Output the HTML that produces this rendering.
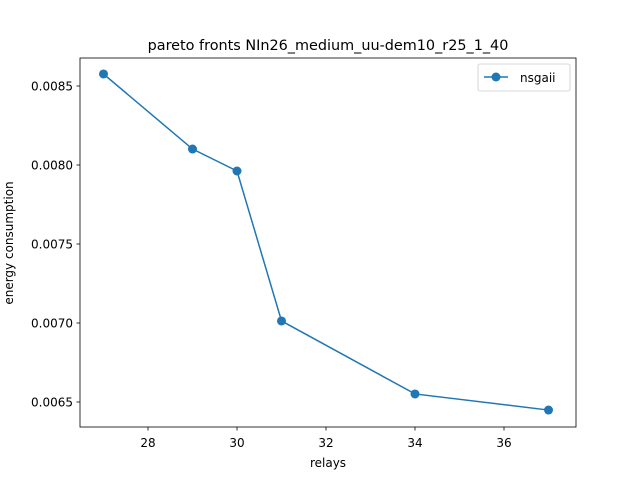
<!DOCTYPE html>
<html><head><meta charset="utf-8"><style>
body{margin:0;background:#fff}
svg text{font-family:"DejaVu Sans","Liberation Sans",sans-serif;fill:#000}
</style></head><body>
<svg id="chart" width="640" height="480" viewBox="0 0 640 480" xmlns="http://www.w3.org/2000/svg">
<rect width="640" height="480" fill="#fff"/>
<text x="328" y="50" font-size="14.4" text-anchor="middle">pareto fronts NIn26_medium_uu-dem10_r25_1_40</text>
<g id="xticks"></g>
<g id="yticks"></g>
<text x="328" y="467" font-size="12" text-anchor="middle">relays</text>
<text transform="translate(13,243) rotate(-90)" font-size="12" text-anchor="middle">energy consumption</text>
<g id="series"></g>
<rect x="80" y="58" width="496" height="369" fill="none" stroke="#000" stroke-width="0.8"/>
<g>
<rect x="478" y="64" width="92" height="27" rx="2" fill="#fff" stroke="#ccc" stroke-width="0.8"/>
<line x1="484" y1="77" x2="508" y2="77" stroke="#1f77b4" stroke-width="1.5"/>
<circle cx="496" cy="77" r="4.5" fill="#1f77b4"/>
<text x="520" y="82" font-size="12">nsgaii</text>
</g>
</svg>
<script>
const relays=[27,29,30,31,34,37];
const energy=[0.008576,0.008101,0.007962,0.007013,0.006551,0.006449];
const xTickVals=[28,30,32,34,36];
const xTickLabels=["28","30","32","34","36"];
const yTickVals=[0.0065,0.0070,0.0075,0.0080,0.0085];
const yTickLabels=["0.0065","0.0070","0.0075","0.0080","0.0085"];
const NS="http://www.w3.org/2000/svg";
function xs(v){return 148+(v-28)*44.5;}
function ys(v){return 86+(0.0085-v)/0.0005*79;}
function mk(t,a,p){const e=document.createElementNS(NS,t);for(const k in a)e.setAttribute(k,a[k]);p.appendChild(e);return e;}
const xg=document.getElementById('xticks'),yg=document.getElementById('yticks'),sg=document.getElementById('series');
xTickVals.forEach((v,i)=>{
 const l=mk('line',{x1:xs(v),x2:xs(v),y1:427,y2:430.5,stroke:'#000','stroke-width':0.8},xg);
 
 
 const t=mk('text',{x:xs(v),y:447,'font-size':12,'text-anchor':'middle'},xg);t.textContent=xTickLabels[i];
 
 
});
yTickVals.forEach((v,i)=>{
 const l=mk('line',{x1:76.5,x2:80,y1:ys(v),y2:ys(v),stroke:'#000','stroke-width':0.8},yg);
 
 
 const t=mk('text',{x:73,y:ys(v)+4.5,'font-size':12,'text-anchor':'end'},yg);t.textContent=yTickLabels[i];
 
 
});
const pl=mk('polyline',{points:relays.map((r,i)=>xs(r)+','+ys(energy[i])).join(' '),fill:'none',stroke:'#1f77b4','stroke-width':1.5},sg);


relays.forEach((r,i)=>{
 const c=mk('circle',{cx:xs(r),cy:ys(energy[i]),r:4.5,fill:'#1f77b4'},sg);
 
 
});
</script>
</body></html>
